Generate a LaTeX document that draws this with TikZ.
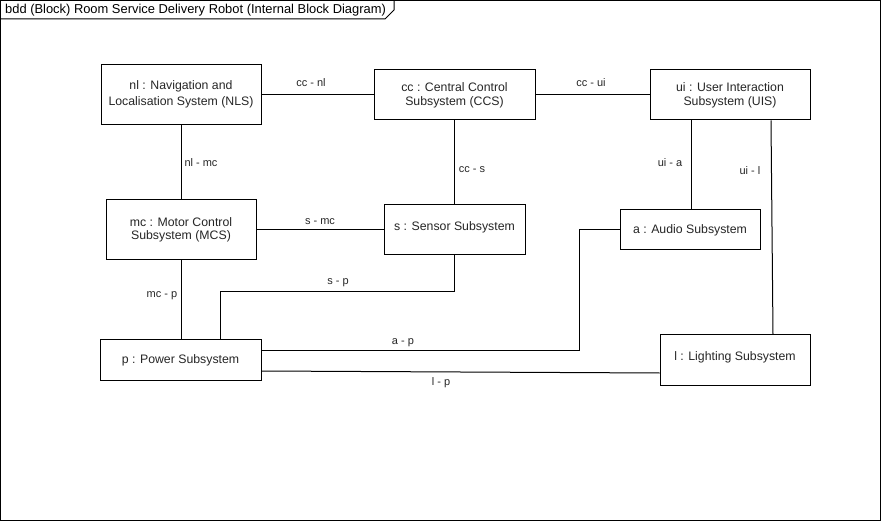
\documentclass[tikz,border=0pt]{standalone}
\usepackage{fontspec}
\setmainfont{Liberation Sans}
\usetikzlibrary{calc}
\begin{document}
\begin{tikzpicture}[x=1pt,y=-1pt,
  blk/.style={draw=black,line width=1pt,fill=white,inner sep=0pt,align=center,
    font=\fontsize{12.3}{14}\selectfont,text=black!85},
  conn/.style={draw=black,line width=1pt},
  lbl/.style={inner sep=0pt,font=\fontsize{11}{13}\selectfont,text=black!85}]
\useasboundingbox (0,0) rectangle (881,521);
% frame
\draw[line width=1pt] (0.5,0.5) rectangle (880,520);
\draw[line width=1pt] (0.5,19) -- (385,19) -- (394,10) -- (394,0.5);
\node[anchor=west,inner sep=0pt,font=\fontsize{12.9}{15}\selectfont] (title) at (5,10) {bdd (Block) Room Service Delivery Robot (Internal Block Diagram)};
% blocks
\node[blk,minimum width=160pt,minimum height=60pt] (nl) at (181,95) {\raisebox{4pt}{\shortstack{nl : Navigation and\\[1pt]Localisation System (NLS)}}};
\node[blk,minimum width=161pt,minimum height=50pt] (cc) at (454.5,95) {cc : Central Control\\Subsystem (CCS)};
\node[blk,minimum width=160pt,minimum height=50pt] (ui) at (730,95) {ui : User Interaction\\Subsystem (UIS)};
\node[blk,minimum width=150pt,minimum height=60pt] (mc) at (181,230) {\raisebox{3pt}{\shortstack{mc : Motor Control\\[1pt]Subsystem (MCS)}}};
\node[blk,minimum width=141pt,minimum height=50pt] (s) at (454.5,230) {\raisebox{7pt}{s : Sensor Subsystem}};
\node[blk,minimum width=140pt,minimum height=40pt] (a) at (690,230) {\raisebox{2pt}{a : Audio Subsystem}};
\node[blk,minimum width=150pt,minimum height=50pt] (l) at (735,360) {\raisebox{7pt}{l : Lighting Subsystem}};
\node[blk,minimum width=161pt,minimum height=40pt] (p) at (180.5,360) {p : Power Subsystem};
% connectors
\draw[conn] (nl.east) -- (cc.west);
\draw[conn] (cc.east) -- (ui.west);
\draw[conn] (nl.south) -- (mc.north);
\draw[conn] (cc.south) -- (s.north);
\draw[conn] (mc.east) -- (s.west);
\draw[conn] ([xshift=1pt]a.north) -- ([xshift=1pt]a.north |- ui.south);
\draw[conn] ([xshift=41pt]ui.south) -- ([xshift=38pt]l.north);
\draw[conn] (mc.south) -- (mc.south |- p.north);
\coordinate (sp1) at ($(s.south)+(0,36)$);
\draw[conn] (s.south) -- (sp1) -| ([xshift=40pt]p.north);
\coordinate (ap1) at ($(a.west)+(-40,0)$);
\draw[conn] (a.west) -- (ap1) |- ([yshift=9pt]p.east);
\draw[conn] ([yshift=-11pt]p.east) -- ([yshift=-13pt]l.west);
% labels
\node[lbl] (lccnl) at (311,83) {cc - nl};
\node[lbl] (lccui) at (591,83) {cc - ui};
\node[lbl] (lnlmc) at (201,163) {nl - mc};
\node[lbl] (lccs) at (472,170) {cc - s};
\node[lbl] (luia) at (670,163) {ui - a};
\node[lbl] (luil) at (750,171) {ui - l};
\node[lbl] (lsmc) at (320,222) {s - mc};
\node[lbl] (lmcp) at (162,296) {mc - p};
\node[lbl] (lsp) at (338,283) {s - p};
\node[lbl] (lap) at (403,343) {a - p};
\node[lbl] (llp) at (441,383) {l - p};
\end{tikzpicture}
\end{document}
